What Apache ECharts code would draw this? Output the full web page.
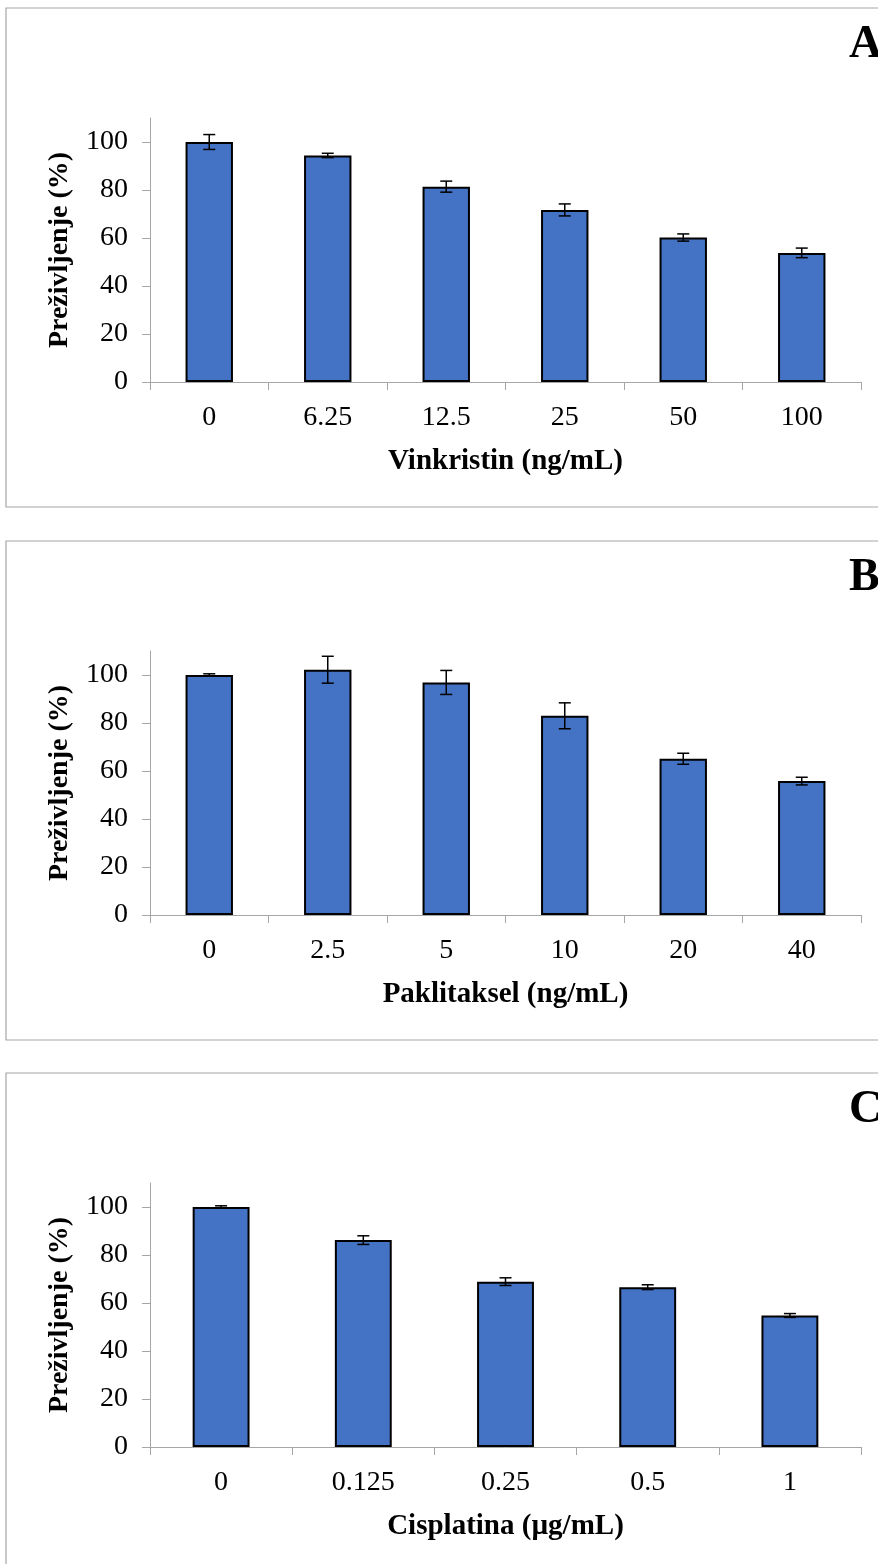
<!DOCTYPE html>
<html><head><meta charset="utf-8">
<script src="https://cdn.jsdelivr.net/npm/echarts@6/dist/echarts.min.js"></script>
<style>html,body{margin:0;padding:0;background:#fff}#c{width:878px;height:1564px}</style>
</head><body><div id="c"></div>
<script>
var catsA = ['0','6.25','12.5','25','50','100'];
var valsA = [100, 94.4, 81.4, 71.7, 60.2, 53.8];
var errA  = [3.1, 0.9, 2.3, 2.5, 1.5, 2.0];
var catsB = ['0','2.5','5','10','20','40'];
var valsB = [100, 102.2, 96.9, 83.0, 65.1, 55.8];
var errB  = [0.5, 5.6, 5.0, 5.4, 2.3, 1.6];
var catsC = ['0','0.125','0.25','0.5','1'];
var valsC = [100, 86.2, 68.9, 66.6, 54.8];
var errC  = [0.5, 1.8, 1.6, 1.0, 0.8];
var yTicks = [0, 20, 40, 60, 80, 100];
var yMax = 110;
var yName = 'Preživljenje (%)';
var xNames = ['Vinkristin (ng/mL)', 'Paklitaksel (ng/mL)', 'Cisplatina (µg/mL)'];
var panelLetters = ['A', 'B', 'C'];

var FONT = '"Liberation Serif","Times New Roman",serif';
var panels = [
  {cats: catsA, vals: valsA, err: errA, top: 8},
  {cats: catsB, vals: valsB, err: errB, top: 541},
  {cats: catsC, vals: valsC, err: errC, top: 1073}
];
var axisGray = '#a6a6a6';
var grids = [], xAxes = [], yAxes = [], series = [], graphics = [];
panels.forEach(function (p, i) {
  grids.push({left: 150, right: 17, top: p.top + 110, height: 264});
  xAxes.push({
    type: 'category', gridIndex: i, data: p.cats,
    axisLine: {lineStyle: {color: axisGray, width: 1}},
    axisTick: {show: true, inside: false, length: 8, alignWithLabel: false, lineStyle: {color: axisGray}},
    axisLabel: {color: '#000', fontFamily: FONT, fontSize: 28, margin: 22},
    name: xNames[i], nameLocation: 'middle', nameGap: 65,
    nameTextStyle: {color: '#000', fontFamily: FONT, fontSize: 29, fontWeight: 'bold'}
  });
  yAxes.push({
    type: 'value', gridIndex: i, min: 0, max: yMax,
    axisLine: {show: true, lineStyle: {color: axisGray, width: 1}},
    axisTick: {show: true, length: 8, lineStyle: {color: axisGray}, customValues: yTicks},
    axisLabel: {color: '#000', fontFamily: FONT, fontSize: 28, margin: 22, customValues: yTicks},
    splitLine: {show: false},
    name: yName, nameLocation: 'middle', nameGap: 76, nameRotate: 90,
    nameTextStyle: {color: '#000', fontFamily: FONT, fontSize: 28, fontWeight: 'bold'}
  });
  series.push({
    type: 'bar', xAxisIndex: i, yAxisIndex: i, data: p.vals, barWidth: '40%',
    itemStyle: {color: '#4472C4', borderColor: '#000', borderWidth: 2},
    z: 2
  });
  series.push({
    type: 'custom', xAxisIndex: i, yAxisIndex: i, z: 5,
    data: p.vals.map(function (v, k) { return [k, v, p.err[k]]; }),
    renderItem: function (params, api) {
      var x = api.value(0), v = api.value(1), e = api.value(2);
      var hi = api.coord([x, v + e]), lo = api.coord([x, v - e]);
      var hw = 6;
      var st = {stroke: '#000', lineWidth: 1.5};
      return {type: 'group', children: [
        {type: 'line', shape: {x1: hi[0], y1: hi[1], x2: lo[0], y2: lo[1]}, style: st},
        {type: 'line', shape: {x1: hi[0] - hw, y1: hi[1], x2: hi[0] + hw, y2: hi[1]}, style: st},
        {type: 'line', shape: {x1: lo[0] - hw, y1: lo[1], x2: lo[0] + hw, y2: lo[1]}, style: st}
      ]};
    }
  });
  graphics.push({type: 'rect', shape: {x: 6, y: p.top, width: 900, height: 499},
    style: {fill: 'none', stroke: axisGray, lineWidth: 1.2}, silent: true});
  graphics.push({type: 'text', x: 849, y: p.top + 14,
    style: {text: panelLetters[i], font: 'bold 46px ' + FONT, fill: '#000'}});
});

var chart = echarts.init(document.getElementById('c'), null, {renderer: 'canvas'});
chart.setOption({
  animation: false,
  backgroundColor: '#fff',
  grid: grids, xAxis: xAxes, yAxis: yAxes, series: series, graphic: graphics
});
</script></body></html>
